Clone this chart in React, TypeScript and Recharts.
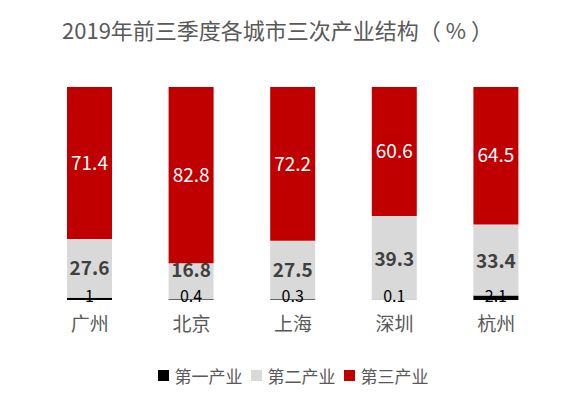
import React from "react";
import { BarChart, Bar, XAxis, YAxis, Legend, LabelList } from "recharts";

// 2019年前三季度各城市三次产业结构（%）
const cities = ["广州", "北京", "上海", "深圳", "杭州"];
const primary = [1, 0.4, 0.3, 0.1, 2.1];
const secondary = [27.6, 16.8, 27.5, 39.3, 33.4];
const tertiary = [71.4, 82.8, 72.2, 60.6, 64.5];
const seriesNames = ["第一产业", "第二产业", "第三产业"];
const colors = ["#000000", "#D9D9D9", "#C00000"];

const data = cities.map((city, i) => ({
  city,
  p1: primary[i],
  p2: secondary[i],
  p3: tertiary[i],
}));

const font = '"Noto Sans CJK SC", "Noto Sans", sans-serif';

// 第一产业很薄，数字贴在柱底稍上方
const PrimaryLabel = (props: any) => {
  const { x, y, width, height, value } = props;
  return (
    <text
      x={x + width / 2}
      y={y + height - 5}
      textAnchor="middle"
      dominantBaseline="central"
      fill="#000000"
      fontSize={16}
      fontFamily={font}
    >
      {value}
    </text>
  );
};

// 第二产业的标签：段太矮时往上挪一点，不压住第一产业的数字
const SecondaryLabel = (props: any) => {
  const { x, y, width, height, value } = props;
  const cy = Math.min(y + height / 2, y + height - 31);
  return (
    <text
      x={x + width / 2}
      y={cy}
      textAnchor="middle"
      dominantBaseline="central"
      fill="#404040"
      fontSize={19}
      fontWeight="bold"
      fontFamily={font}
    >
      {value}
    </text>
  );
};

const LegendContent = () => (
  <div style={{ display: "flex", justifyContent: "center", alignItems: "center", fontFamily: font }}>
    {seriesNames.map((name, i) => (
      <div key={name} style={{ display: "flex", alignItems: "center", marginRight: i < 2 ? 8 : 0 }}>
        <span style={{ width: 11, height: 11, background: colors[i], display: "inline-block", marginRight: 6 }} />
        <span style={{ color: "#595959", fontSize: 17 }}>{name}</span>
      </div>
    ))}
  </div>
);

export default function App() {
  return (
    <div style={{ position: "absolute", left: 0, top: 0, width: 565, height: 409, background: "#fff", fontFamily: font }}>
      <div
        style={{
          position: "absolute",
          left: 62,
          top: 13,
          fontSize: 22,
          color: "#595959",
          whiteSpace: "nowrap",
          lineHeight: "32px",
        }}
      >
        2019年前三季度各城市三次产业结构（ % ）
      </div>
      <BarChart
        width={565}
        height={409}
        data={data}
        margin={{ top: 87, right: 18, bottom: 22, left: 39 }}
      >
        <XAxis
          dataKey="city"
          axisLine={false}
          tickLine={false}
          height={63}
          tickMargin={12}
          tick={{ fill: "#595959", fontSize: 19, fontFamily: font }}
        />
        <YAxis hide domain={[0, 100]} />
        <Legend verticalAlign="bottom" align="center" height={24} content={<LegendContent />} />
        <Bar dataKey="p1" name={seriesNames[0]} stackId="a" fill={colors[0]} barSize={45} isAnimationActive={false}>
          <LabelList dataKey="p1" content={<PrimaryLabel />} />
        </Bar>
        <Bar dataKey="p2" name={seriesNames[1]} stackId="a" fill={colors[1]} barSize={45} isAnimationActive={false}>
          <LabelList dataKey="p2" content={<SecondaryLabel />} />
        </Bar>
        <Bar dataKey="p3" name={seriesNames[2]} stackId="a" fill={colors[2]} barSize={45} isAnimationActive={false}>
          <LabelList dataKey="p3" position="center" fill="#ffffff" fontSize={19} fontFamily={font} />
        </Bar>
      </BarChart>
    </div>
  );
}
